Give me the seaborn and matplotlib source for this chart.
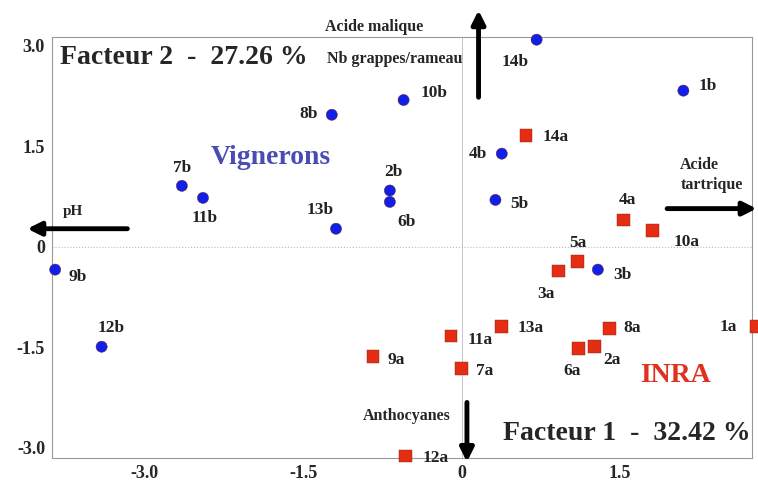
import matplotlib
matplotlib.use("Agg")
import matplotlib.pyplot as plt
import seaborn as sns
import pandas as pd

# Vignerons (b) - coordonnees sur les facteurs 1 et 2
labels_b = ['1b', '2b', '3b', '4b', '5b', '6b', '7b', '8b', '9b', '10b', '11b', '12b', '13b', '14b']
x_b = [2.10, -0.68, 1.29, 0.38, 0.32, -0.68, -2.65, -1.23, -3.85, -0.55, -2.45, -3.41, -1.19, 0.71]
y_b = [2.33, 0.84, -0.34, 1.39, 0.70, 0.67, 0.91, 1.97, -0.34, 2.19, 0.73, -1.49, 0.27, 3.09]

# INRA (a)
labels_a = ['1a', '2a', '3a', '4a', '5a', '6a', '7a', '8a', '9a', '10a', '11a', '12a', '13a', '14a']
x_a = [2.79, 1.26, 0.92, 1.53, 1.10, 1.11, 0.00, 1.40, -0.84, 1.81, -0.10, -0.53, 0.38, 0.61]
y_a = [-1.19, -1.49, -0.36, 0.40, -0.22, -1.52, -1.82, -1.22, -1.64, 0.24, -1.33, -3.12, -1.19, 1.66]

x_ticks = [-3.0, -1.5, 0, 1.5]
x_tick_labels = ['-3.0', '-1.5', '0', '1.5']
y_ticks = [3.0, 1.5, 0, -1.5, -3.0]
y_tick_labels = ['3.0', '1.5', '0', '-1.5', '-3.0']

# decalage des etiquettes (pixels)
offsets = {
    '1b': (24, 5), '2b': (4, 19), '3b': (25, -5), '4b': (-24, 0), '5b': (24, -4),
    '6b': (17, -20), '7b': (0, 18), '8b': (-23, 1), '9b': (23, -7), '10b': (30, 7),
    '11b': (2, -20), '12b': (10, 19), '13b': (-16, 19), '14b': (-21, -22),
    '1a': (-28, 0), '2a': (17, -13), '3a': (-13, -23), '4a': (4, 20), '5a': (0, 19),
    '6a': (-7, -22), '7a': (23, -2), '8a': (23, 1), '9a': (23, -3), '10a': (34, -11),
    '11a': (29, -4), '12a': (30, -2), '13a': (29, -1), '14a': (30, -1),
}

df = pd.DataFrame({
    'label': labels_b + labels_a,
    'x': x_b + x_a,
    'y': y_b + y_a,
    'groupe': ['Vignerons'] * len(labels_b) + ['INRA'] * len(labels_a),
})

sns.set_style("white")
plt.rcParams['font.family'] = ['Liberation Serif', 'DejaVu Serif']
plt.rcParams['font.weight'] = 'bold'

fig = plt.figure(figsize=(7.58, 4.86), dpi=100)
ax = fig.add_axes([52 / 758, 1 - 458 / 486, 700 / 758, 421 / 486])

sns.scatterplot(data=df, x='x', y='y', hue='groupe', style='groupe',
                palette={'Vignerons': '#1020e8', 'INRA': '#e52d14'},
                markers={'Vignerons': 'o', 'INRA': 's'},
                size='groupe', sizes={'Vignerons': 65, 'INRA': 85},
                edgecolor='#802010', linewidth=0.3, legend=False, ax=ax, zorder=3,
                clip_on=False)

for lab, x, y in zip(df['label'], df['x'], df['y']):
    dx, dy = offsets[lab]
    ax.annotate(lab, (x, y), xytext=(dx, dy), textcoords='offset pixels',
                ha='center', va='center', fontsize=12.5, fontweight='bold', color='#222222',
                annotation_clip=False)

ax.set_xlim(-3.88, 2.75)
ax.set_ylim(-3.15, 3.13)
ax.set_xticks(x_ticks)
ax.set_xticklabels(x_tick_labels)
ax.set_yticks(y_ticks)
ax.set_yticklabels(y_tick_labels)
ax.tick_params(direction='in', length=3, color='#999999', labelsize=13, pad=5)
for t in ax.get_xticklabels() + ax.get_yticklabels():
    t.set_fontweight('bold')
ax.set_xlabel('')
ax.set_ylabel('')
for s in ax.spines.values():
    s.set_color('#999999')
    s.set_linewidth(0.8)

ax.axhline(0, color='#bbbbbb', lw=0.8, ls=':', zorder=1)
ax.axvline(0, color='#bbbbbb', lw=0.6, zorder=1)

# fleches des variables
arrow = dict(arrowstyle='-|>,head_width=0.4,head_length=0.8', lw=3.5, color='black')
ax.annotate('', xy=(-4.14, 0.27), xytext=(-3.14, 0.27), arrowprops=arrow, annotation_clip=False)
ax.annotate('', xy=(0.16, 3.57), xytext=(0.16, 2.19), arrowprops=arrow, annotation_clip=False)
ax.annotate('', xy=(2.82, 0.57), xytext=(1.92, 0.57), arrowprops=arrow, annotation_clip=False)
ax.annotate('', xy=(0.05, -3.25), xytext=(0.05, -2.28), arrowprops=arrow, annotation_clip=False)

ax.text(-3.78, 0.52, 'pH', fontsize=11, fontweight='bold', ha='left', va='center')
ax.text(-0.83, 3.28, 'Acide malique', fontsize=11.5, fontweight='bold', ha='center', va='center')
ax.text(-0.63, 2.8, 'Nb grappes/rameau', fontsize=11.5, fontweight='bold', ha='center', va='center')
ax.text(2.07, 1.07, 'Acide\ntartrique', fontsize=11.5, fontweight='bold', ha='left', va='center',
        linespacing=1.3)
ax.text(-0.52, -2.53, 'Anthocyanes', fontsize=11.5, fontweight='bold', ha='center', va='center')

ax.text(-3.8, 2.83, 'Facteur 2  -  27.26 %', fontsize=20, fontweight='bold', ha='left', va='center')
ax.text(2.74, -2.78, 'Facteur 1  -  32.42 %', fontsize=20, fontweight='bold', ha='right', va='center')
ax.text(-2.38, 1.33, 'Vignerons', fontsize=20, fontweight='bold', color='#4b4bb5', ha='left', va='center')
ax.text(1.69, -1.92, 'INRA', fontsize=20, fontweight='bold', color='#e0301e', ha='left', va='center')

fig.savefig('out.png', dpi=100)
